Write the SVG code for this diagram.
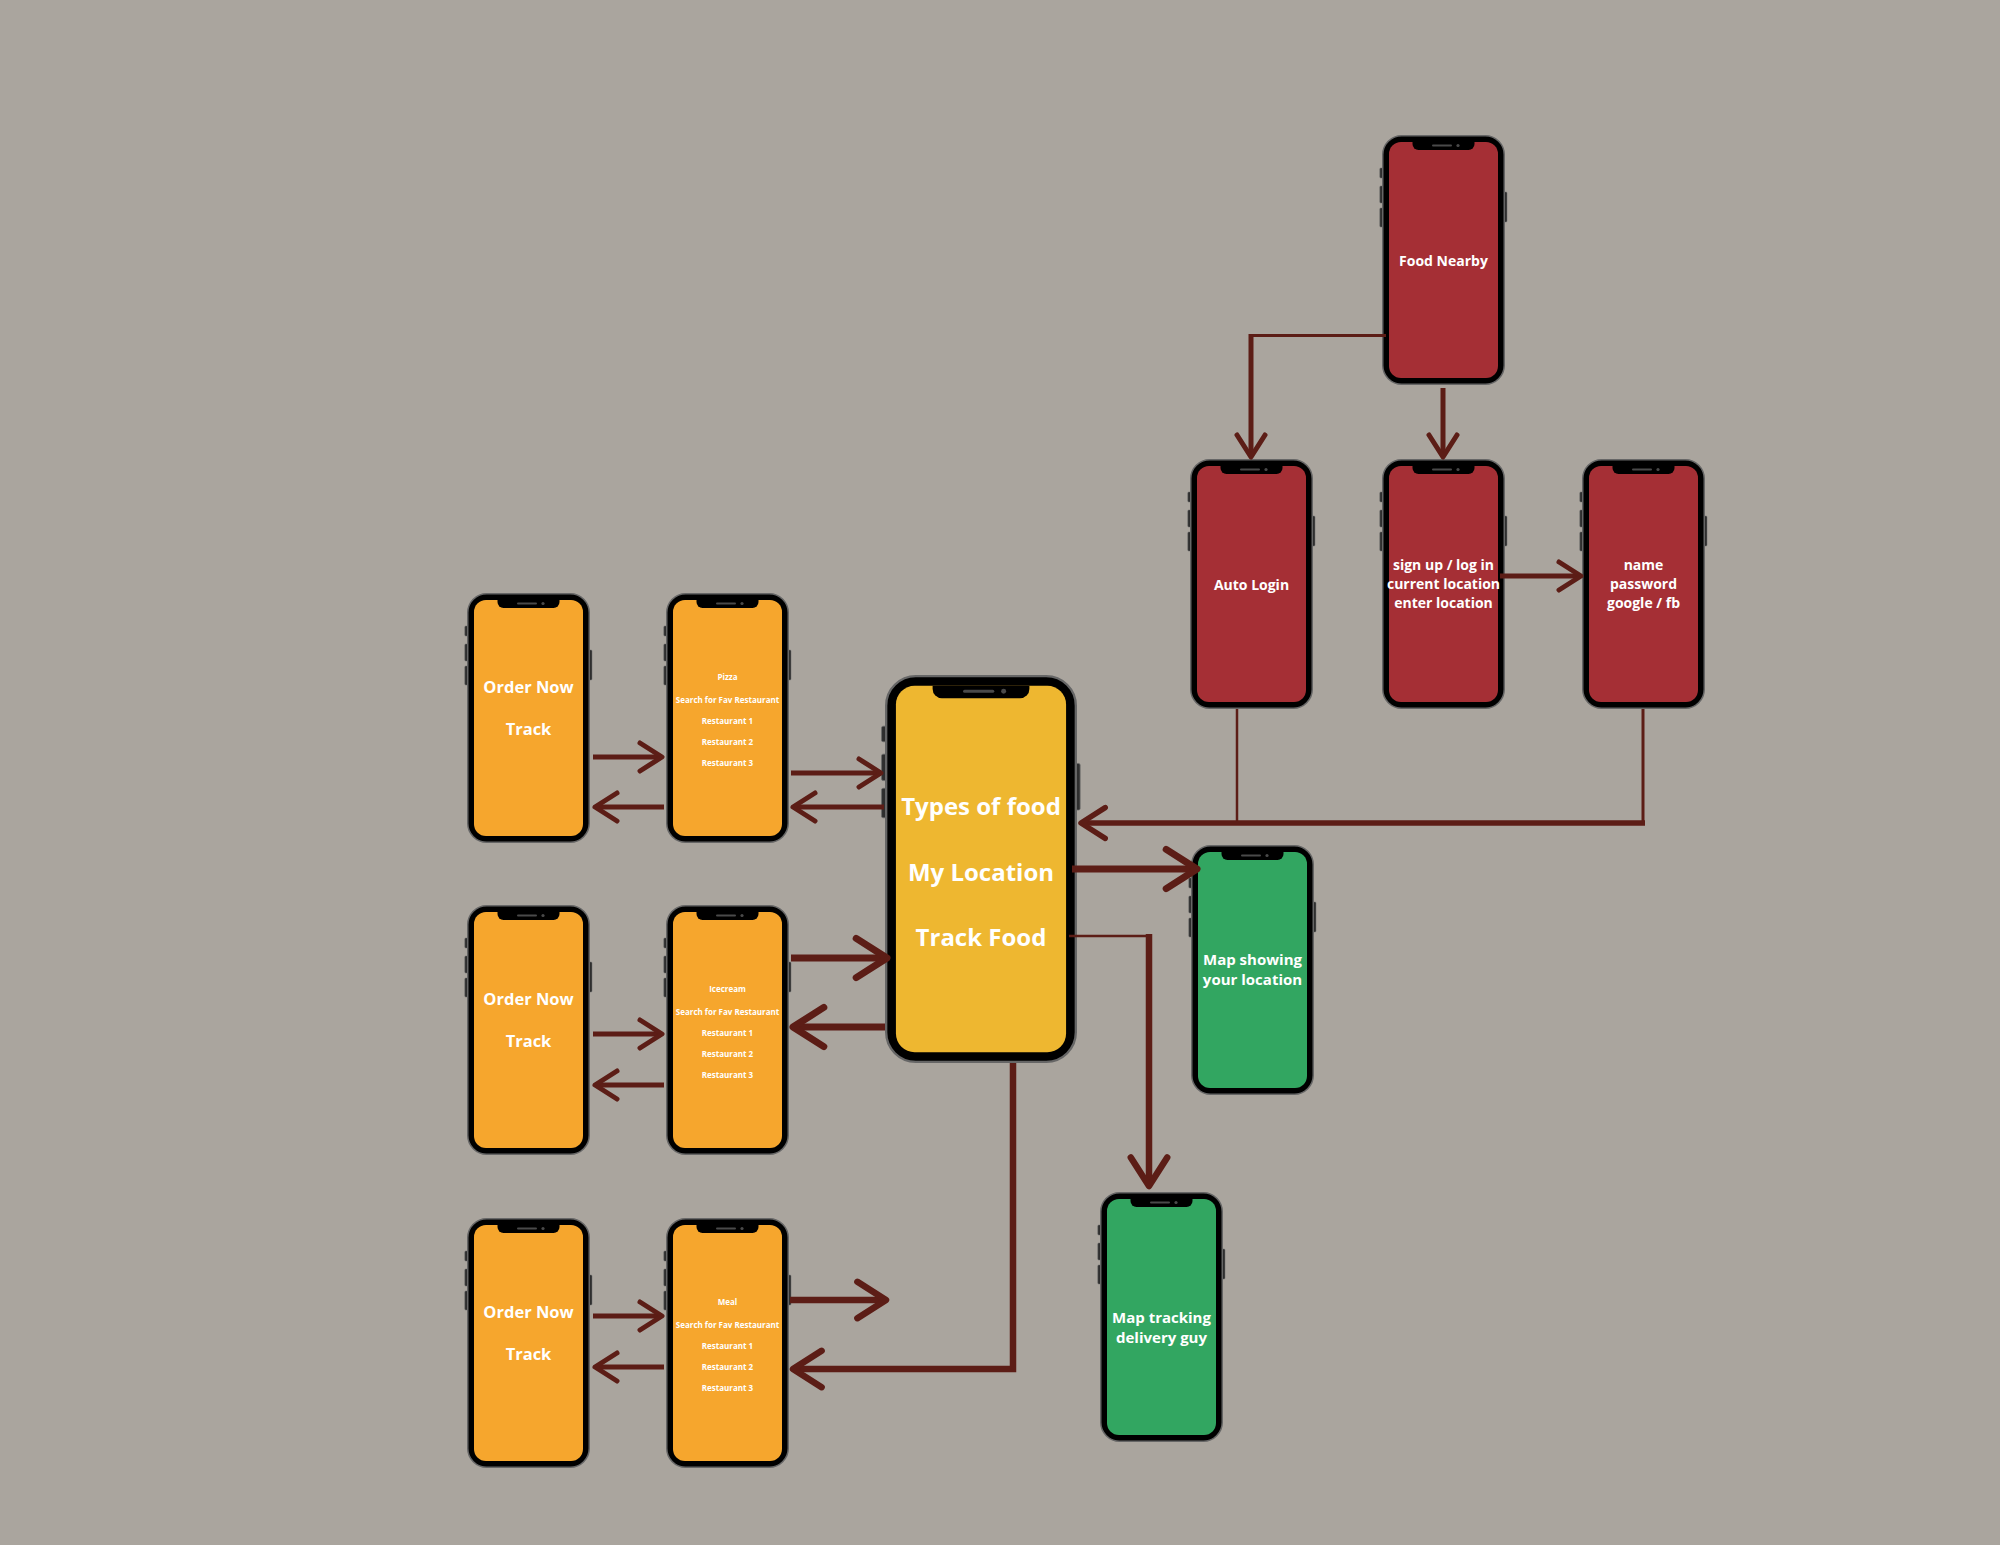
<svg xmlns="http://www.w3.org/2000/svg" xmlns:xlink="http://www.w3.org/1999/xlink" width="2000" height="1545" viewBox="0 0 2000 1545">
<style>
.t{font-family:"Open Sans","Liberation Sans",sans-serif;font-weight:700;fill:#ffffff;text-anchor:middle}
.red{color:#a52f35}
.org{color:#f6a62d}
.yel{color:#eeb730}
.grn{color:#32a661}
.btn{fill:#2e2e2e;stroke:#6a6a6a;stroke-width:0.5}
.c{fill:none;stroke:#5c1d16;stroke-linejoin:miter}
.a{marker-end:url(#ah)}
</style>
<defs>
<marker id="ah" markerUnits="strokeWidth" orient="auto" refX="0" refY="0" markerWidth="1" markerHeight="1" overflow="visible">
<path d="M-4.4,-2.8 L0,0 L-4.4,2.8" fill="none" stroke="#5c1d16" stroke-width="1" stroke-linecap="round" stroke-linejoin="round"/>
</marker>
<symbol id="phone" viewBox="0 0 123 250" preserveAspectRatio="none" style="overflow:visible">
<rect x="-2.2" y="33" width="3" height="10" rx="1" class="btn"/>
<rect x="-2.2" y="51" width="3" height="17" rx="1" class="btn"/>
<rect x="-2.2" y="73" width="3" height="19" rx="1" class="btn"/>
<rect x="122" y="57" width="3" height="30" rx="1" class="btn"/>
<rect x="0.75" y="0.75" width="121.5" height="248.5" rx="19" fill="#000000" stroke="#666666" stroke-width="1.5"/>
<rect x="7" y="7" width="109" height="236" rx="12" fill="currentColor"/>
<path d="M30.5,7 H92.5 V9 a6,6 0 0 1 -6,6 H36.5 a6,6 0 0 1 -6,-6 Z" fill="#000000"/>
<line x1="51" y1="10.5" x2="69" y2="10.5" stroke="#4a4a4a" stroke-width="2" stroke-linecap="round"/>
<circle cx="76" cy="10.5" r="1.6" fill="#4a4a4a"/>
</symbol>
</defs>
<rect x="0" y="0" width="2000" height="1545" fill="#aaa59e"/>

<g id="food-nearby">
<use href="#phone" x="1382" y="135" width="123" height="250" class="red"/>
<text class="t" x="1443.5" y="266" font-size="14">Food Nearby</text>
</g>
<g id="auto-login">
<use href="#phone" x="1190" y="459" width="123" height="250" class="red"/>
<text class="t" x="1251.5" y="590" font-size="14">Auto Login</text>
</g>
<g id="sign-up">
<use href="#phone" x="1382" y="459" width="123" height="250" class="red"/>
<text class="t" x="1443.5" y="570" font-size="14">sign up / log in</text>
<text class="t" x="1443.5" y="589" font-size="14">current location</text>
<text class="t" x="1443.5" y="608" font-size="14">enter location</text>
</g>
<g id="credentials">
<use href="#phone" x="1582" y="459" width="123" height="250" class="red"/>
<text class="t" x="1643.5" y="570" font-size="14">name</text>
<text class="t" x="1643.5" y="589" font-size="14">password</text>
<text class="t" x="1643.5" y="608" font-size="14">google / fb</text>
</g>
<g id="main">
<use href="#phone" x="885" y="675" width="192" height="388" class="yel"/>
<text class="t" x="981" y="815" font-size="24">Types of food</text>
<text class="t" x="981" y="881" font-size="24">My Location</text>
<text class="t" x="981" y="946" font-size="24">Track Food</text>
</g>
<g id="map-location">
<use href="#phone" x="1191" y="845" width="123" height="250" class="grn"/>
<text class="t" x="1252.5" y="965" font-size="15">Map showing</text>
<text class="t" x="1252.5" y="985" font-size="15">your location</text>
</g>
<g id="map-tracking">
<use href="#phone" x="1100" y="1192" width="123" height="250" class="grn"/>
<text class="t" x="1161.5" y="1323" font-size="15">Map tracking</text>
<text class="t" x="1161.5" y="1343" font-size="15">delivery guy</text>
</g>

<g id="order-1">
<use href="#phone" x="467" y="593" width="123" height="250" class="org"/>
<text class="t" x="528.5" y="693" font-size="16.5">Order Now</text>
<text class="t" x="528.5" y="735" font-size="16.5">Track</text>
</g>
<g id="pizza">
<use href="#phone" x="666" y="593" width="123" height="250" class="org"/>
<text class="t" x="727.5" y="680" font-size="8">Pizza</text>
<text class="t" x="727.5" y="702.5" font-size="8">Search for Fav Restaurant</text>
<text class="t" x="727.5" y="723.5" font-size="8">Restaurant 1</text>
<text class="t" x="727.5" y="744.5" font-size="8">Restaurant 2</text>
<text class="t" x="727.5" y="766" font-size="8">Restaurant 3</text>
</g>
<g id="order-2">
<use href="#phone" x="467" y="905" width="123" height="250" class="org"/>
<text class="t" x="528.5" y="1005" font-size="16.5">Order Now</text>
<text class="t" x="528.5" y="1047" font-size="16.5">Track</text>
</g>
<g id="icecream">
<use href="#phone" x="666" y="905" width="123" height="250" class="org"/>
<text class="t" x="727.5" y="992" font-size="8">Icecream</text>
<text class="t" x="727.5" y="1014.5" font-size="8">Search for Fav Restaurant</text>
<text class="t" x="727.5" y="1035.5" font-size="8">Restaurant 1</text>
<text class="t" x="727.5" y="1056.5" font-size="8">Restaurant 2</text>
<text class="t" x="727.5" y="1078" font-size="8">Restaurant 3</text>
</g>
<g id="order-3">
<use href="#phone" x="467" y="1218" width="123" height="250" class="org"/>
<text class="t" x="528.5" y="1318" font-size="16.5">Order Now</text>
<text class="t" x="528.5" y="1360" font-size="16.5">Track</text>
</g>
<g id="meal">
<use href="#phone" x="666" y="1218" width="123" height="250" class="org"/>
<text class="t" x="727.5" y="1305" font-size="8">Meal</text>
<text class="t" x="727.5" y="1327.5" font-size="8">Search for Fav Restaurant</text>
<text class="t" x="727.5" y="1348.5" font-size="8">Restaurant 1</text>
<text class="t" x="727.5" y="1369.5" font-size="8">Restaurant 2</text>
<text class="t" x="727.5" y="1391" font-size="8">Restaurant 3</text>
</g>

<g id="connectors">
<path class="c" d="M1386,335.5 H1251" stroke-width="3"/>
<path class="c a" d="M1251,334 V457" stroke-width="5"/>
<path class="c a" d="M1443,388 V457" stroke-width="5"/>
<path class="c a" d="M1500,576 H1581" stroke-width="5"/>
<path class="c" d="M1237,709 V823" stroke-width="2.5"/>
<path class="c" d="M1643,709 V823" stroke-width="3"/>
<path class="c a" d="M1645,823 H1081" stroke-width="5.5"/>
<path class="c a" d="M1072,869 H1197" stroke-width="7"/>
<path class="c" d="M1069,936 H1151" stroke-width="2.7"/>
<path class="c a" d="M1149,934 V1186" stroke-width="6.5"/>
<path class="c a" d="M1013,1063 V1369 H793" stroke-width="6.5"/>
<path class="c a" d="M593,757 H662" stroke-width="5"/>
<path class="c a" d="M664,807 H595" stroke-width="5"/>
<path class="c a" d="M791,773 H881" stroke-width="5"/>
<path class="c a" d="M884,807 H793" stroke-width="5"/>
<path class="c a" d="M593,1034 H662" stroke-width="5"/>
<path class="c a" d="M664,1085 H595" stroke-width="5"/>
<path class="c a" d="M791,958 H887" stroke-width="7"/>
<path class="c a" d="M885,1027 H793" stroke-width="7"/>
<path class="c a" d="M593,1316 H662" stroke-width="5"/>
<path class="c a" d="M664,1367 H595" stroke-width="5"/>
<path class="c a" d="M790,1300 H886" stroke-width="6.5"/>
</g>
</svg>
